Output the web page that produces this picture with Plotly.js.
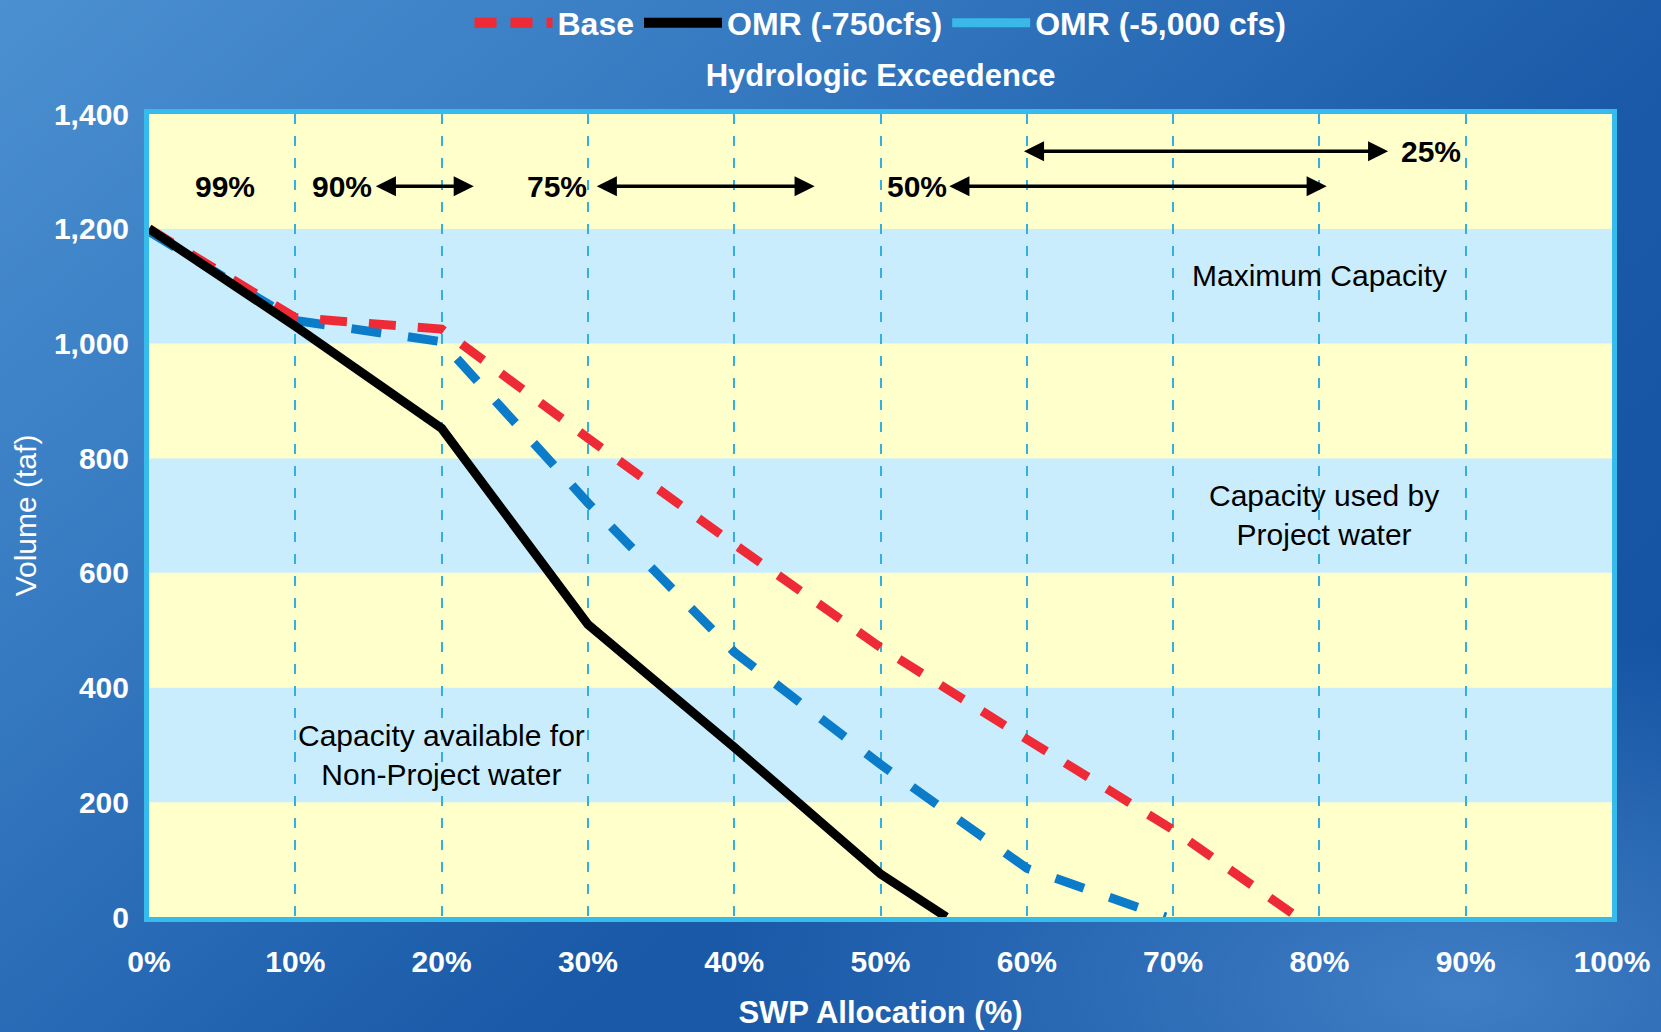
<!DOCTYPE html>
<html>
<head>
<meta charset="utf-8">
<script src="https://cdn.plot.ly/plotly-3.0.1.min.js"></script>
<style>
  html, body { margin: 0; padding: 0; }
  body {
    width: 1661px; height: 1032px; overflow: hidden;
    background:
      radial-gradient(ellipse 45% 35% at 88% 96%, rgba(78,140,208,0.75) 0%, rgba(78,140,208,0) 100%),
      linear-gradient(140deg, #4b90d0 0%, #3478c0 30%, #1a5aa8 60%, #1250a0 100%);
  }
  #chart { width: 1661px; height: 1032px; }
</style>
</head>
<body>
<div id="chart"></div>
<script>
// ---------- data ----------
const xTicks = [0, 10, 20, 30, 40, 50, 60, 70, 80, 90, 100];
const xTickLabels = ['0%', '10%', '20%', '30%', '40%', '50%', '60%', '70%', '80%', '90%', '100%'];
const yTicks = [0, 200, 400, 600, 800, 1000, 1200, 1400];
const yTickLabels = ['0', '200', '400', '600', '800', '1,000', '1,200', '1,400'];

const seriesNames = ['Base', 'OMR (-750cfs)', 'OMR (-5,000 cfs)'];

const baseX = [0, 10, 20, 30, 40, 50, 60, 70, 78.5];
const baseY = [1200, 1045, 1025, 835, 650, 470, 310, 152, 0];

const omr750X = [0, 10, 20, 30, 40, 50, 54.5];
const omr750Y = [1200, 1030, 852, 510, 296, 75, 0];

const omr5000X = [0, 10, 20, 30, 40, 50, 60, 69.5];
const omr5000Y = [1195, 1040, 1003, 722, 462, 266, 85, 0];

const exceedLabels = ['99%', '90%', '75%', '50%', '25%'];
const exceedLabelX = [5.2, 13.2, 27.9, 52.5, 87.6];
const exceedLabelY = [1274, 1274, 1274, 1274, 1335];

const arrowFromX = [15.4, 30.5, 54.6, 59.7];
const arrowToX = [22.2, 45.5, 80.5, 84.7];
const arrowY = [1274, 1274, 1274, 1335];

const regionLabels = ['Maximum Capacity', 'Capacity used by<br>Project water', 'Capacity available for<br>Non-Project water'];
const regionLabelX = [80, 80.3, 20];
const regionLabelY = [1119, 701, 282];

// ---------- styling ----------
const FONT = 'Liberation Sans, Arial, sans-serif';
const RED = '#ee2a36';
const BLUE = '#0b7cc9';
const CYAN = '#3ab8e8';
const YELLOW_BAND = '#ffffcc';
const BLUE_BAND = '#c9edfc';

const traces = [
  { x: omr5000X, y: omr5000Y, mode: 'lines', name: seriesNames[2], showlegend: false,
    line: { color: BLUE, width: 9, dash: '30px,27px' }, hoverinfo: 'x+y' },
  { x: baseX, y: baseY, mode: 'lines', name: seriesNames[0], showlegend: false,
    line: { color: RED, width: 9, dash: '27px,22px' }, hoverinfo: 'x+y' },
  { x: omr750X, y: omr750Y, mode: 'lines', name: seriesNames[1], showlegend: false,
    line: { color: '#000000', width: 9 }, hoverinfo: 'x+y' },
  // legend entries
  { x: [null], y: [null], mode: 'lines', name: seriesNames[0], line: { color: RED, width: 12, dash: '22px,14px' } },
  { x: [null], y: [null], mode: 'lines', name: seriesNames[1], line: { color: '#000000', width: 10 } },
  { x: [null], y: [null], mode: 'lines', name: seriesNames[2], line: { color: CYAN, width: 9 } }
];

// background bands built from y tick edges
const shapes = [];
for (let i = 0; i < yTicks.length - 1; i++) {
  shapes.push({
    type: 'rect', xref: 'paper', yref: 'y', x0: 0, x1: 1, y0: yTicks[i], y1: yTicks[i + 1],
    fillcolor: i % 2 === 0 ? YELLOW_BAND : BLUE_BAND, line: { width: 0 }, layer: 'below'
  });
}

const annotations = [];
exceedLabels.forEach((t, i) => {
  annotations.push({ x: exceedLabelX[i], y: exceedLabelY[i], xref: 'x', yref: 'y', text: t,
    showarrow: false, font: { family: FONT, size: 30, color: '#000', weight: 'bold' } });
});
arrowFromX.forEach((x0, i) => {
  annotations.push({ x: arrowToX[i], y: arrowY[i], ax: x0, ay: arrowY[i], xref: 'x', yref: 'y',
    axref: 'x', ayref: 'y', text: '', showarrow: true, arrowside: 'end+start',
    arrowhead: 2, startarrowhead: 2, arrowsize: 1.15, startarrowsize: 1.15,
    arrowwidth: 3.5, arrowcolor: '#000', standoff: 0, startstandoff: 0 });
});
regionLabels.forEach((t, i) => {
  annotations.push({ x: regionLabelX[i], y: regionLabelY[i], xref: 'x', yref: 'y', text: t,
    showarrow: false, font: { family: FONT, size: 30, color: '#000' } });
});

const layout = {
  width: 1661, height: 1032,
  margin: { l: 149, r: 49, t: 114, b: 115, autoexpand: false },
  paper_bgcolor: 'rgba(0,0,0,0)',
  plot_bgcolor: YELLOW_BAND,
  font: { family: FONT, color: '#ffffff' },
  title: { text: 'Hydrologic Exceedence', x: 0.5, xref: 'paper', y: 1 - 75 / 1032, yref: 'container',
    yanchor: 'middle', font: { family: FONT, size: 31, color: '#ffffff', weight: 'bold' } },
  showlegend: true,
  legend: { orientation: 'h', x: 0.5, xanchor: 'center', xref: 'paper',
    y: 1 - 23 / 1032, yref: 'container', yanchor: 'middle',
    bgcolor: 'rgba(0,0,0,0)', font: { family: FONT, size: 32, color: '#ffffff', weight: 'bold' },
    itemwidth: 78 },
  xaxis: {
    range: [0, 100], tickmode: 'array', tickvals: xTicks, ticktext: xTickLabels,
    showgrid: true, gridcolor: '#35aee0', gridwidth: 2, griddash: '10px,12px',
    zeroline: false, showline: true, linecolor: '#35bbec', linewidth: 5, mirror: true,
    ticks: '', ticklabelstandoff: 14, automargin: false,
    tickfont: { family: FONT, size: 30, color: '#ffffff', weight: 'bold' },
    title: { text: 'SWP Allocation (%)', standoff: 26, font: { family: FONT, size: 31, color: '#ffffff', weight: 'bold' } },
    fixedrange: true
  },
  yaxis: {
    range: [0, 1400], tickmode: 'array', tickvals: yTicks, ticktext: yTickLabels,
    showgrid: false, zeroline: false, showline: true, linecolor: '#35bbec', linewidth: 5, mirror: true,
    ticks: '', ticklabelstandoff: 9, automargin: false,
    tickfont: { family: FONT, size: 30, color: '#ffffff', weight: 'bold' },
    title: { text: 'Volume (taf)', standoff: 10, font: { family: FONT, size: 30, color: '#ffffff' } },
    fixedrange: true
  },
  shapes: shapes,
  annotations: annotations
};

Plotly.newPlot('chart', traces, layout, { displayModeBar: false, staticPlot: true });
</script>
</body>
</html>
